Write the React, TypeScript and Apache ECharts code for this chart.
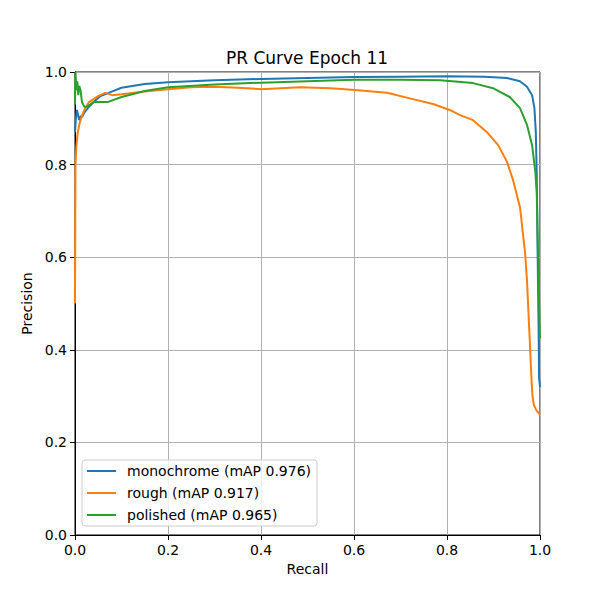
import React, { useEffect, useRef } from "react";
import * as echarts from "echarts";

const titleText = "PR Curve Epoch 11";
const tickValues = [0, 0.2, 0.4, 0.6, 0.8, 1.0];

const monoName = "monochrome (mAP 0.976)";
const monoRecall = [0, 0.002, 0.004, 0.006, 0.009, 0.012, 0.015, 0.02, 0.03, 0.04, 0.055, 0.075, 0.1, 0.15, 0.2, 0.3, 0.4, 0.5, 0.6, 0.7, 0.8, 0.88, 0.929, 0.957, 0.972, 0.983, 0.988, 0.991, 0.993, 0.995, 0.997, 0.998, 1.0];
const monoPrecision = [0.87, 0.9, 0.918, 0.91, 0.896, 0.905, 0.903, 0.912, 0.925, 0.935, 0.948, 0.956, 0.966, 0.974, 0.978, 0.982, 0.985, 0.987, 0.989, 0.99, 0.991, 0.99, 0.987, 0.98, 0.968, 0.95, 0.922, 0.87, 0.778, 0.6, 0.45, 0.34, 0.32];

const roughName = "rough (mAP 0.917)";
const roughRecall = [0, 0.001, 0.003, 0.006, 0.01, 0.015, 0.02, 0.03, 0.05, 0.065, 0.08, 0.1, 0.15, 0.2, 0.25, 0.3, 0.35, 0.4, 0.484, 0.55, 0.602, 0.671, 0.72, 0.77, 0.806, 0.828, 0.856, 0.886, 0.91, 0.929, 0.942, 0.957, 0.968, 0.972, 0.978, 0.982, 0.984, 0.987, 0.993, 1.0];
const roughPrecision = [0.5, 0.8, 0.84, 0.87, 0.89, 0.905, 0.918, 0.935, 0.948, 0.955, 0.95, 0.952, 0.958, 0.963, 0.967, 0.968, 0.966, 0.963, 0.967, 0.965, 0.961, 0.955, 0.943, 0.931, 0.918, 0.907, 0.896, 0.87, 0.842, 0.806, 0.767, 0.708, 0.609, 0.55, 0.42, 0.33, 0.298, 0.28, 0.268, 0.26];

const polishedName = "polished (mAP 0.965)";
const polishedRecall = [0, 0.001, 0.003, 0.005, 0.007, 0.009, 0.012, 0.015, 0.02, 0.025, 0.04, 0.07, 0.1, 0.15, 0.2, 0.3, 0.4, 0.5, 0.6, 0.7, 0.785, 0.856, 0.899, 0.935, 0.957, 0.972, 0.983, 0.99, 0.993, 0.997, 0.999, 1.0];
const polishedPrecision = [0.93, 1.0, 0.96, 0.98, 0.95, 0.97, 0.96, 0.935, 0.925, 0.925, 0.935, 0.935, 0.946, 0.959, 0.967, 0.973, 0.977, 0.98, 0.983, 0.983, 0.982, 0.976, 0.965, 0.946, 0.922, 0.886, 0.842, 0.784, 0.739, 0.551, 0.46, 0.425];

const zip = (xs: number[], ys: number[]) => xs.map((x, i) => [x, ys[i]]);

export default function App() {
  const ref = useRef<HTMLDivElement>(null);
  useEffect(() => {
    if (!ref.current) return;
    const chart = echarts.init(ref.current, null, { renderer: "svg" });
    const font = "DejaVu Sans";
    const axisCommon = {
      type: "value",
      min: 0,
      max: 1,
      interval: 0.2,
      axisLine: { show: true, onZero: false, lineStyle: { color: "#000", width: 1 } },
      axisTick: { show: true, inside: false, length: 5, lineStyle: { color: "#000" } },
      axisLabel: {
        color: "#000",
        fontFamily: font,
        fontSize: 14,
        formatter: (v: number) => (tickValues.some((t) => Math.abs(t - v) < 1e-9) ? v.toFixed(1) : ""),
      },
      splitLine: { show: true, lineStyle: { color: "#b0b0b0", width: 1 } },
      nameLocation: "middle",
      nameTextStyle: { color: "#000", fontFamily: font, fontSize: 14 },
    };
    const mk = (name: string, xs: number[], ys: number[], color: string) => ({
      name,
      type: "line",
      data: zip(xs, ys),
      showSymbol: false,
      symbol: "none",
      lineStyle: { color, width: 2 },
      itemStyle: { color },
    });
    chart.setOption({
      animation: false,
      backgroundColor: "#fff",
      graphic: [
        {
          type: "text",
          x: 307,
          y: 58,
          style: {
            text: titleText,
            fontFamily: font,
            fontSize: 17,
            fill: "#000",
            align: "center",
            verticalAlign: "middle",
          },
        },
      ],
      grid: { left: 75, top: 72, width: 465, height: 463, show: true, borderColor: "#000", borderWidth: 1, backgroundColor: "transparent" },
      xAxis: { ...axisCommon, name: "Recall", nameGap: 27 },
      yAxis: { ...axisCommon, name: "Precision", nameGap: 38 },
      legend: {
        orient: "vertical",
        left: 82,
        top: 460,
        icon: "rect",
        itemWidth: 29,
        itemHeight: 2,
        itemGap: 8,
        padding: [4, 6, 4, 5],
        backgroundColor: "rgba(255,255,255,0.8)",
        borderColor: "#cccccc",
        borderWidth: 1,
        borderRadius: 3,
        textStyle: { fontFamily: font, fontSize: 14, color: "#000", padding: [0, 0, 0, 6], lineHeight: 14 },
      },
      series: [
        mk(monoName, monoRecall, monoPrecision, "#1f77b4"),
        mk(roughName, roughRecall, roughPrecision, "#ff7f0e"),
        mk(polishedName, polishedRecall, polishedPrecision, "#2ca02c"),
      ],
    });
    return () => chart.dispose();
  }, []);
  return <div ref={ref} style={{ position: "fixed", left: 0, top: 0, width: 600, height: 600 }} />;
}
